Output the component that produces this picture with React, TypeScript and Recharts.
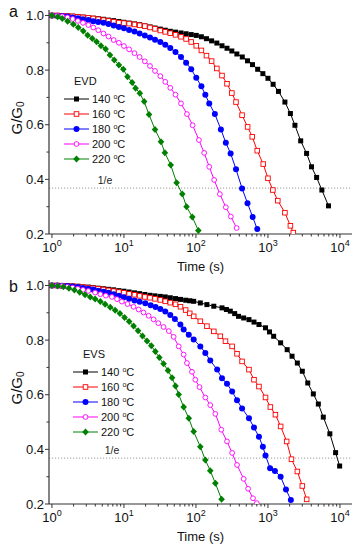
import { LineChart, Line, XAxis, YAxis, ReferenceLine } from 'recharts';

// G/G0 relaxation curves; each entry is [time (s), G/G0].
type Pt = [number, number];

const evd140: Pt[] = [[1, 1.0], [1.18, 1.0], [1.39, 0.999], [1.64, 0.998], [1.94, 0.997], [2.29, 0.996], [2.7, 0.994], [3.2, 0.992], [3.75, 0.99], [4.4, 0.988], [5.2, 0.986], [6.1, 0.983], [7.2, 0.981], [8.5, 0.978], [10, 0.975], [11.8, 0.972], [14, 0.969], [16.5, 0.966], [19.5, 0.962], [23, 0.958], [27, 0.954], [32, 0.95], [37.5, 0.946], [44, 0.942], [52, 0.939], [62, 0.936], [73, 0.933], [86, 0.93], [101, 0.927], [119, 0.922], [140, 0.915], [165, 0.907], [195, 0.899], [230, 0.889], [270, 0.88], [315, 0.87], [370, 0.859], [440, 0.848], [520, 0.834], [610, 0.82], [720, 0.803], [850, 0.787], [1000, 0.77], [1180, 0.748], [1400, 0.722], [1720, 0.683], [2050, 0.641], [2370, 0.598], [2850, 0.541], [3440, 0.495], [4030, 0.446], [4740, 0.407], [5610, 0.361], [6930, 0.303]];
const evd160: Pt[] = [[1, 1.0], [1.18, 1.0], [1.39, 0.999], [1.64, 0.998], [1.94, 0.997], [2.29, 0.995], [2.7, 0.993], [3.2, 0.991], [3.75, 0.989], [4.4, 0.986], [5.2, 0.983], [6.1, 0.98], [7.2, 0.977], [8.5, 0.974], [10, 0.972], [11.8, 0.97], [14, 0.967], [16.5, 0.964], [19.5, 0.961], [23, 0.956], [27, 0.951], [32, 0.945], [37.5, 0.94], [44, 0.935], [52, 0.929], [62, 0.922], [73, 0.914], [86, 0.903], [101, 0.889], [119, 0.872], [140, 0.853], [165, 0.833], [195, 0.806], [230, 0.78], [270, 0.75], [315, 0.716], [360, 0.683], [437, 0.635], [522, 0.592], [605, 0.556], [710, 0.505], [860, 0.456], [1000, 0.404], [1170, 0.361], [1370, 0.322], [1720, 0.278], [2050, 0.23], [2250, 0.205]];
const evd180: Pt[] = [[1, 1.0], [1.18, 0.999], [1.39, 0.998], [1.64, 0.996], [1.94, 0.993], [2.29, 0.99], [2.7, 0.986], [3.2, 0.983], [3.75, 0.979], [4.4, 0.976], [5.2, 0.973], [6.1, 0.969], [7.2, 0.963], [8.5, 0.958], [10, 0.953], [11.8, 0.947], [14, 0.941], [16.5, 0.934], [19.5, 0.927], [23, 0.919], [27, 0.911], [32, 0.903], [37.5, 0.893], [44, 0.881], [52, 0.866], [62, 0.848], [73, 0.827], [86, 0.803], [101, 0.772], [119, 0.741], [135, 0.71], [153, 0.678], [183, 0.639], [222, 0.583], [260, 0.534], [303, 0.495], [360, 0.437], [437, 0.367], [520, 0.313], [614, 0.262], [710, 0.218]];
const evd200: Pt[] = [[1, 1.0], [1.18, 0.999], [1.39, 0.997], [1.64, 0.993], [1.94, 0.987], [2.29, 0.98], [2.7, 0.973], [3.2, 0.965], [3.75, 0.956], [4.4, 0.946], [5.2, 0.934], [6.1, 0.923], [7.2, 0.91], [8.5, 0.9], [10, 0.888], [11.8, 0.876], [14, 0.862], [16.5, 0.848], [19.5, 0.832], [23, 0.815], [27, 0.797], [32, 0.778], [37.5, 0.757], [44, 0.735], [52, 0.71], [62, 0.678], [75, 0.639], [90, 0.598], [110, 0.544], [130, 0.497], [153, 0.446], [179, 0.398], [215, 0.346], [260, 0.298], [305, 0.264], [367, 0.222]];
const evd220: Pt[] = [[1, 1.0], [1.2, 0.995], [1.39, 0.989], [1.65, 0.979], [1.98, 0.968], [2.32, 0.956], [2.72, 0.943], [3.13, 0.928], [3.63, 0.916], [4.17, 0.904], [4.79, 0.889], [5.56, 0.877], [6.39, 0.855], [7.34, 0.837], [8.5, 0.819], [9.8, 0.803], [11.2, 0.776], [13, 0.755], [14.5, 0.734], [16.6, 0.715], [19.1, 0.685], [22.3, 0.637], [27, 0.583], [32.7, 0.538], [37, 0.497], [44.6, 0.453], [53.9, 0.388], [64.6, 0.346], [74, 0.3], [89, 0.262], [108, 0.213]];

const evs140: Pt[] = [[1, 1.0], [1.18, 1.0], [1.39, 0.999], [1.64, 0.999], [1.94, 0.998], [2.29, 0.997], [2.7, 0.995], [3.2, 0.994], [3.75, 0.992], [4.4, 0.99], [5.2, 0.988], [6.1, 0.986], [7.2, 0.984], [8.5, 0.981], [10, 0.979], [11.8, 0.976], [14, 0.973], [16.5, 0.97], [19.5, 0.967], [23, 0.964], [27, 0.962], [32, 0.96], [37.5, 0.958], [44, 0.955], [52, 0.952], [61, 0.949], [72, 0.946], [82, 0.944], [93, 0.942], [115, 0.936], [142, 0.93], [177, 0.924], [230, 0.918], [265, 0.912], [300, 0.906], [345, 0.897], [390, 0.887], [460, 0.881], [545, 0.875], [640, 0.866], [750, 0.857], [925, 0.845], [1050, 0.83], [1200, 0.814], [1500, 0.79], [1850, 0.765], [2160, 0.741], [2560, 0.716], [3000, 0.686], [3570, 0.643], [4270, 0.603], [5010, 0.566], [5870, 0.518], [7240, 0.457], [8700, 0.388], [9900, 0.339]];
const evs160: Pt[] = [[1, 1.0], [1.18, 1.0], [1.39, 0.999], [1.64, 0.998], [1.94, 0.997], [2.29, 0.996], [2.7, 0.994], [3.2, 0.992], [3.75, 0.99], [4.4, 0.988], [5.2, 0.985], [6.1, 0.982], [7.2, 0.979], [8.5, 0.976], [10, 0.973], [11.8, 0.969], [14, 0.966], [16.5, 0.962], [19.5, 0.958], [23, 0.955], [27, 0.951], [32, 0.947], [37.5, 0.942], [44, 0.937], [52, 0.931], [61, 0.922], [72, 0.91], [82, 0.898], [93, 0.887], [115, 0.869], [142, 0.851], [177, 0.832], [218, 0.814], [257, 0.796], [318, 0.777], [372, 0.75], [437, 0.722], [545, 0.692], [640, 0.655], [750, 0.63], [925, 0.59], [1080, 0.555], [1270, 0.527], [1500, 0.484], [1820, 0.429], [2120, 0.364], [2560, 0.319], [3000, 0.266], [3450, 0.217]];
const evs180: Pt[] = [[1, 1.0], [1.18, 1.0], [1.39, 0.999], [1.64, 0.998], [1.94, 0.996], [2.29, 0.994], [2.7, 0.991], [3.2, 0.988], [3.75, 0.985], [4.4, 0.981], [5.2, 0.977], [6.1, 0.973], [7.2, 0.968], [8.5, 0.962], [10, 0.957], [11.8, 0.951], [14, 0.945], [16.5, 0.94], [19.8, 0.935], [23.5, 0.928], [27.5, 0.921], [32, 0.914], [37.5, 0.905], [44, 0.892], [51, 0.877], [60.8, 0.857], [67.5, 0.839], [79.5, 0.82], [93, 0.802], [115, 0.777], [135, 0.753], [158, 0.725], [197, 0.692], [230, 0.66], [270, 0.64], [318, 0.612], [372, 0.58], [437, 0.55], [545, 0.514], [640, 0.48], [750, 0.446], [850, 0.41], [925, 0.378], [1070, 0.331], [1250, 0.321], [1500, 0.3], [1780, 0.253], [2080, 0.215]];
const evs200: Pt[] = [[1, 1.0], [1.18, 0.999], [1.39, 0.998], [1.64, 0.995], [1.94, 0.992], [2.29, 0.988], [2.7, 0.984], [3.2, 0.98], [3.98, 0.974], [4.7, 0.968], [5.6, 0.963], [6.8, 0.958], [8, 0.95], [9.35, 0.941], [11.2, 0.932], [13.6, 0.922], [16, 0.912], [18.7, 0.901], [22, 0.889], [25.8, 0.876], [30, 0.862], [35.5, 0.848], [42, 0.833], [49, 0.812], [57.6, 0.777], [67.5, 0.747], [75, 0.716], [88, 0.684], [98, 0.655], [112, 0.628], [135, 0.59], [158, 0.562], [186, 0.53], [225, 0.472], [270, 0.429], [318, 0.387], [372, 0.343], [460, 0.292], [530, 0.256], [620, 0.221], [700, 0.203]];
const evs220: Pt[] = [[1, 1.0], [1.2, 0.998], [1.44, 0.995], [1.72, 0.99], [2.05, 0.983], [2.43, 0.975], [2.88, 0.966], [3.4, 0.958], [3.98, 0.95], [4.7, 0.941], [5.48, 0.931], [6.45, 0.92], [7.55, 0.909], [8.8, 0.897], [10.2, 0.883], [11.8, 0.868], [13.6, 0.852], [15.7, 0.834], [18.1, 0.815], [20.9, 0.797], [24, 0.779], [27.3, 0.758], [31, 0.736], [35.5, 0.713], [40.9, 0.689], [46.6, 0.662], [52, 0.632], [57.6, 0.601], [67.5, 0.555], [79.5, 0.514], [93, 0.465], [115, 0.41], [135, 0.361], [158, 0.322], [186, 0.276], [227, 0.217]];

const TEMPS = ['140', '160', '180', '200', '220'];
const COLORS = ['#000000', '#ff0000', '#0000ff', '#ff00ff', '#008000'];
const SHAPES = ['square', 'openSquare', 'circle', 'openCircle', 'diamond'];

const X_TICKS = [1, 2, 3, 4, 5, 6, 7, 8, 9, 10, 20, 30, 40, 50, 60, 70, 80, 90, 100, 200, 300, 400, 500, 600, 700, 800, 900, 1000, 2000, 3000, 4000, 5000, 6000, 7000, 8000, 9000, 10000];
const Y_TICKS = [0.2, 0.3, 0.4, 0.5, 0.6, 0.7, 0.8, 0.9, 1.0];
const INV_E = 0.368;

const FONT = '"Liberation Sans", Arial, Helvetica, sans-serif';
const AXIS = '#333';

function Marker({ shape, color, cx, cy }: any) {
  if (cx == null || cy == null || isNaN(cx) || isNaN(cy)) return null;
  switch (shape) {
    case 'square': return <rect x={cx - 2.5} y={cy - 2.5} width={5} height={5} fill={color} />;
    case 'openSquare': return <rect x={cx - 2.3} y={cy - 2.3} width={4.6} height={4.6} fill="#fff" stroke={color} strokeWidth={0.9} />;
    case 'circle': return <circle cx={cx} cy={cy} r={3} fill={color} />;
    case 'openCircle': return <circle cx={cx} cy={cy} r={2.4} fill="#fff" stroke={color} strokeWidth={0.9} />;
    default: return <polygon points={`${cx},${cy - 3.5} ${cx + 3.3},${cy} ${cx},${cy + 3.5} ${cx - 3.3},${cy}`} fill={color} />;
  }
}

function XTick({ x, y, payload }: any) {
  const lg = Math.log10(payload.value);
  const exp = Math.round(lg);
  const major = Math.abs(lg - exp) < 1e-6;
  return (
    <g>
      <line x1={x} y1={y} x2={x} y2={y + (major ? 4 : 2.5)} stroke={AXIS} />
      {major && (
        <text x={x} y={y + 18} textAnchor="middle" fontSize={13} fill="#111" fontFamily={FONT}>
          10<tspan dy={-6} fontSize={9}>{exp}</tspan>
        </text>
      )}
    </g>
  );
}

function YTick({ x, y, payload }: any) {
  const major = Math.round(payload.value * 10) % 2 === 0;
  return (
    <g>
      <line x1={x} y1={y} x2={x - (major ? 4 : 2.5)} y2={y} stroke={AXIS} />
      {major && (
        <text x={x - 5} y={y + 4.5} textAnchor="end" fontSize={13} fill="#111" fontFamily={FONT}>
          {payload.value.toFixed(1)}
        </text>
      )}
    </g>
  );
}

function TempLabel({ x, y, t }: any) {
  return (
    <text x={x} y={y} fontSize={11} fill="#111" fontFamily={FONT}>
      {t} <tspan dy={-4} fontSize={7}>o</tspan><tspan dy={4}>C</tspan>
    </text>
  );
}

interface PanelProps {
  top: number; letter: string; title: string; series: Pt[][];
  margin: { top: number; right: number; bottom: number; left: number };
  legendX: number; legendY: number; eLabelDx: number;
}

function Panel({ top, letter, title, series, margin, legendX, legendY, eLabelDx }: PanelProps) {
  return (
    <div style={{ position: 'absolute', left: 0, top, width: 360, height: 275 }}>
      <LineChart width={360} height={275} margin={margin}>
        <XAxis dataKey="t" type="number" scale="log" domain={[0.91, 14700]} allowDataOverflow
          ticks={X_TICKS} interval={0} tick={<XTick />} tickLine={false} tickSize={0} tickMargin={0}
          height={30} axisLine={{ stroke: AXIS, strokeWidth: 1.2 }}
          label={{ content: (p: any) => (
            <text x={p.viewBox.x + p.viewBox.width / 2} y={p.viewBox.y + 37} textAnchor="middle" fontSize={13} fill="#111" fontFamily={FONT}>Time (s)</text>
          ) }} />
        <YAxis type="number" domain={[0.2, 1.02]} allowDataOverflow ticks={Y_TICKS} interval={0}
          tick={<YTick />} tickLine={false} tickSize={0} tickMargin={0} width={40}
          axisLine={{ stroke: AXIS, strokeWidth: 1.2 }}
          label={{ content: (p: any) => {
            const cx = p.viewBox.x + 7;
            const cy = p.viewBox.y + p.viewBox.height / 2 - 4;
            return (
              <text x={cx} y={cy} transform={`rotate(-90, ${cx}, ${cy})`} textAnchor="middle" dominantBaseline="central" fontSize={15} fill="#111" fontFamily={FONT}>
                G/G<tspan dy={4} fontSize={10}>0</tspan>
              </text>
            );
          } }} />
        <XAxis xAxisId="top" orientation="top" type="number" domain={[0, 1]} height={0} tick={false} tickLine={false} axisLine={{ stroke: AXIS, strokeWidth: 1.2 }} />
        <YAxis yAxisId="right" orientation="right" type="number" domain={[0, 1]} width={0} tick={false} tickLine={false} axisLine={{ stroke: AXIS, strokeWidth: 1.2 }} />
        <ReferenceLine y={INV_E} stroke="#9a9a9a" strokeDasharray="1.2 1.8" strokeWidth={1}
          label={(p: any) => (
            <text x={p.viewBox.x + eLabelDx} y={p.viewBox.y - 4} textAnchor="middle" fontSize={10.5} fill="#222" fontFamily={FONT}>1/e</text>
          )} />
        {series.map((pts, i) => (
          <Line key={TEMPS[i]} data={pts.map(([t, g]) => ({ t, g }))} dataKey="g" type="linear"
            stroke={COLORS[i]} strokeWidth={1} activeDot={false} isAnimationActive={false}
            dot={(p: any) => <Marker key={`${letter}-${i}-${p.index}`} shape={SHAPES[i]} color={COLORS[i]} cx={p.cx} cy={p.cy} />} />
        ))}
      </LineChart>
      <svg width={360} height={275} style={{ position: 'absolute', left: 0, top: 0, pointerEvents: 'none' }}>
        <text x={9} y={17} fontSize={16} fill="#111" fontFamily={FONT}>{letter}</text>
        <text x={legendX + 10} y={legendY - 14} fontSize={11} fill="#111" fontFamily={FONT}>{title}</text>
        {TEMPS.map((t, i) => {
          const y = legendY + i * 15;
          return (
            <g key={t}>
              <line x1={legendX} y1={y} x2={legendX + 25} y2={y} stroke={COLORS[i]} strokeWidth={1} />
              <Marker shape={SHAPES[i]} color={COLORS[i]} cx={legendX + 12.5} cy={y} />
              <TempLabel x={legendX + 28} y={y + 4} t={t} />
            </g>
          );
        })}
      </svg>
    </div>
  );
}

export default function App() {
  return (
    <div style={{ position: 'absolute', left: 0, top: 0, width: 360, height: 550, background: '#fff' }}>
      <Panel top={0} letter="a" title="EVD" series={[evd140, evd160, evd180, evd200, evd220]}
        margin={{ top: 10, right: 8, bottom: 11, left: 9 }} legendX={64} legendY={99} eLabelDx={56} />
      <Panel top={275} letter="b" title="EVS" series={[evs140, evs160, evs180, evs200, evs220]}
        margin={{ top: 5, right: 8, bottom: 16, left: 9 }} legendX={73} legendY={97} eLabelDx={63} />
    </div>
  );
}
